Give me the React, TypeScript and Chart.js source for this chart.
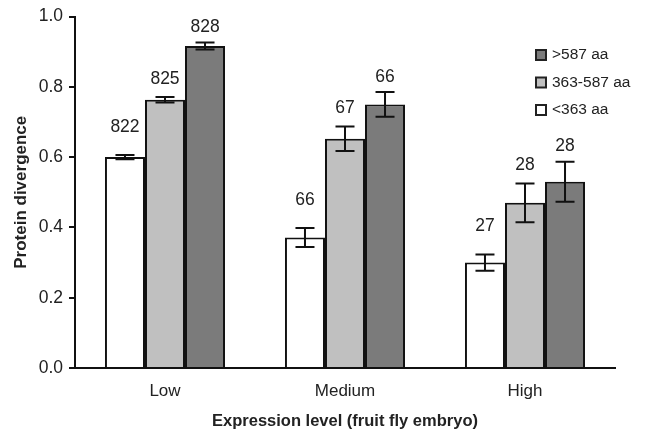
import { useEffect, useRef } from 'react';
import { Chart, registerables } from 'chart.js';

Chart.register(...registerables);

const categories = ['Low', 'Medium', 'High'];
const seriesNames = ['<363 aa', '363-587 aa', '>587 aa'];
const shortValues = [0.6, 0.371, 0.3];
const midValues = [0.763, 0.652, 0.47];
const longValues = [0.916, 0.75, 0.53];
const shortErr = [0.006, 0.027, 0.023];
const midErr = [0.008, 0.035, 0.055];
const longErr = [0.01, 0.035, 0.057];
const shortN = ['822', '66', '27'];
const midN = ['825', '67', '28'];
const longN = ['828', '66', '28'];
const yTicks = [0, 0.2, 0.4, 0.6, 0.8, 1.0];

const FONT = '"Liberation Sans", Arial, sans-serif';
const COLORS = ['#ffffff', '#c0c0c0', '#7b7b7b'];
const ERRS = [shortErr, midErr, longErr];
const COUNTS = [shortN, midN, longN];
const LABEL_GAP = [28, 18, 15];

const overlayPlugin = {
  id: 'overlay',
  afterDatasetsDraw(chart: any) {
    const { ctx } = chart;
    const y = chart.scales.y;
    ctx.save();
    chart.data.datasets.forEach((ds: any, di: number) => {
      const meta = chart.getDatasetMeta(di);
      meta.data.forEach((bar: any, i: number) => {
        const v = ds.data[i];
        const e = ERRS[di][i];
        const x = bar.x;
        const yt = y.getPixelForValue(v + e);
        const yb = y.getPixelForValue(v - e);
        ctx.strokeStyle = '#111';
        ctx.lineWidth = 2;
        ctx.beginPath();
        ctx.moveTo(x, yt);
        ctx.lineTo(x, yb);
        ctx.moveTo(x - 9.5, yt);
        ctx.lineTo(x + 9.5, yt);
        ctx.moveTo(x - 9.5, yb);
        ctx.lineTo(x + 9.5, yb);
        ctx.stroke();
        ctx.fillStyle = '#222';
        ctx.font = '17.5px ' + FONT;
        ctx.textAlign = 'center';
        ctx.textBaseline = 'middle';
        ctx.fillText(COUNTS[di][i], x, yt - LABEL_GAP[di]);
      });
    });
    // legend
    const order = [2, 1, 0];
    const lx = 536;
    const ly0 = 55;
    const dy = 27.5;
    order.forEach((di, k) => {
      const cy = ly0 + k * dy;
      ctx.fillStyle = COLORS[di];
      ctx.fillRect(lx, cy - 5, 10, 10);
      ctx.strokeStyle = '#222';
      ctx.lineWidth = 2;
      ctx.strokeRect(lx, cy - 5, 10, 10);
      ctx.fillStyle = '#222';
      ctx.font = '15.5px ' + FONT;
      ctx.textAlign = 'left';
      ctx.textBaseline = 'middle';
      ctx.fillText(seriesNames[di], lx + 16, cy);
    });
    ctx.restore();
  },
};

export default function App() {
  const ref = useRef<HTMLCanvasElement>(null);
  useEffect(() => {
    if (!ref.current) return;
    const chart = new Chart(ref.current, {
      type: 'bar',
      data: {
        labels: categories,
        datasets: [shortValues, midValues, longValues].map((d, di) => ({
          label: seriesNames[di],
          data: d,
          backgroundColor: COLORS[di],
          borderColor: '#111',
          borderWidth: 2,
          categoryPercentage: 0.667,
          barPercentage: 1,
        })),
      },
      options: {
        animation: false,
        responsive: false,
        maintainAspectRatio: false,
        layout: { padding: { left: 0, right: 32, top: 15, bottom: 0 } },
        plugins: { legend: { display: false }, tooltip: { enabled: false } },
        scales: {
          x: {
            grid: { display: false, drawTicks: false },
            border: { color: '#111', width: 2 },
            ticks: { color: '#222', font: { family: FONT, size: 17 }, padding: 13 },
            title: {
              display: true,
              text: 'Expression level (fruit fly embryo)',
              color: '#222',
              font: { family: FONT, size: 16.5, weight: 'bold' },
              padding: { top: 0, bottom: 3 },
            },
            afterFit: (s: any) => { s.height = 66; },
          },
          y: {
            min: 0,
            max: 1,
            afterBuildTicks: (s: any) => { s.ticks = yTicks.map((v) => ({ value: v })); },
            grid: { display: true, drawOnChartArea: false, drawTicks: true, tickLength: 6, color: '#111', lineWidth: 2 },
            border: { color: '#111', width: 2 },
            ticks: {
              color: '#222',
              font: { family: FONT, size: 17.5 },
              padding: 6,
              callback: (v: any) => Number(v).toFixed(1),
            },
            title: {
              display: true,
              text: 'Protein divergence',
              color: '#222',
              font: { family: FONT, size: 17, weight: 'bold' },
              padding: { top: 11, bottom: 0 },
            },
            afterFit: (s: any) => { s.width = 75; },
          },
        },
      },
      plugins: [overlayPlugin],
    });
    return () => chart.destroy();
  }, []);
  return (
    <div style={{ position: 'fixed', left: 0, top: 0, width: 647, height: 434, background: '#fff' }}>
      <canvas ref={ref} width={647} height={434} style={{ width: 647, height: 434 }} />
    </div>
  );
}
